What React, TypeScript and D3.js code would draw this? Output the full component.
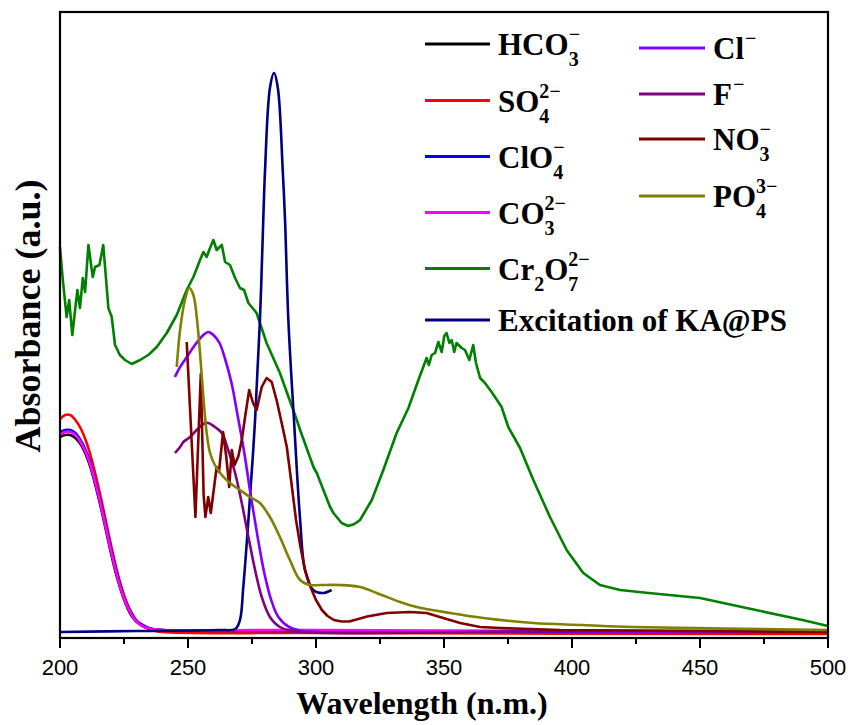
import React from "react";
import * as d3 from "d3";

type Pt = [number, number];

// wavelength (nm), absorbance (a.u.)
const hco3: Pt[] = [[200, 2.01], [202, 2.03], [204, 2.03], [206, 2.0], [208, 1.94], [210, 1.84], [212, 1.7], [214, 1.51], [216, 1.3], [218, 1.07], [220, 0.84], [222, 0.63], [224, 0.46], [226, 0.32], [228, 0.22], [230, 0.16], [233, 0.11], [236, 0.09], [240, 0.08], [260, 0.07], [300, 0.07], [400, 0.06], [500, 0.05]];
const so4: Pt[] = [[200, 2.19], [202, 2.23], [204, 2.23], [206, 2.18], [208, 2.1], [210, 1.98], [212, 1.82], [214, 1.62], [216, 1.4], [218, 1.16], [220, 0.92], [222, 0.7], [224, 0.51], [226, 0.36], [228, 0.25], [230, 0.17], [233, 0.11], [236, 0.08], [240, 0.06], [300, 0.05], [500, 0.04]];
const clo4: Pt[] = [[200, 2.06], [202, 2.08], [204, 2.08], [206, 2.05], [208, 1.98], [210, 1.88], [212, 1.74], [214, 1.55], [216, 1.34], [218, 1.11], [220, 0.88], [222, 0.67], [224, 0.49], [226, 0.34], [228, 0.24], [230, 0.17], [233, 0.12], [236, 0.09], [240, 0.08], [300, 0.07], [500, 0.06]];
const co3: Pt[] = [[200, 2.03], [202, 2.06], [204, 2.06], [206, 2.03], [208, 1.96], [210, 1.86], [212, 1.72], [214, 1.53], [216, 1.32], [218, 1.09], [220, 0.86], [222, 0.65], [224, 0.47], [226, 0.33], [228, 0.23], [230, 0.16], [233, 0.11], [236, 0.09], [240, 0.08], [300, 0.08], [500, 0.06]];
const cr2o7: Pt[] = [[200, 3.91], [201.1, 3.58], [202.6, 3.21], [203.6, 3.38], [204.8, 3.03], [205.9, 3.28], [206.8, 3.48], [207.8, 3.3], [208.9, 3.6], [209.8, 3.46], [211.1, 3.93], [212.8, 3.61], [213.7, 3.71], [215.4, 3.73], [216.9, 3.93], [218.9, 3.3], [220.2, 3.21], [221.5, 2.93], [223.4, 2.83], [225.4, 2.78], [226.7, 2.76], [228.0, 2.74], [231.3, 2.78], [234.5, 2.83], [237.8, 2.91], [241.7, 3.05], [245.6, 3.23], [249.5, 3.48], [252.1, 3.61], [254.7, 3.78], [256.0, 3.86], [257.3, 3.81], [258.3, 3.88], [259.9, 3.98], [261.2, 3.88], [263.2, 3.93], [264.5, 3.76], [266.4, 3.73], [268.4, 3.6], [270.3, 3.5], [271.9, 3.48], [273.6, 3.35], [276.8, 3.25], [280.7, 2.95], [285.9, 2.65], [292.5, 2.18], [293.8, 2.08], [299.0, 1.71], [300.3, 1.65], [305.5, 1.31], [306.8, 1.25], [310, 1.15], [312.6, 1.12], [315, 1.14], [317.2, 1.18], [321.8, 1.38], [326.3, 1.68], [331.5, 2.05], [336.1, 2.3], [340.0, 2.58], [343.2, 2.8], [344.1, 2.73], [345.2, 2.83], [346.5, 2.85], [347.8, 2.96], [349.1, 2.86], [350.1, 3.02], [351.0, 3.05], [352.1, 2.95], [353.0, 2.98], [354.0, 2.86], [354.9, 2.95], [356.9, 2.9], [358.2, 2.88], [359.9, 2.78], [361.4, 2.93], [362.5, 2.75], [364.1, 2.6], [366.0, 2.55], [368.6, 2.46], [372.5, 2.31], [375.1, 2.11], [379.7, 1.9], [384.9, 1.58], [391.4, 1.21], [397.9, 0.88], [404.4, 0.65], [410.9, 0.53], [418.8, 0.48], [430, 0.45], [450, 0.4], [470, 0.29], [490, 0.18], [500, 0.12]];
const excitation: Pt[] = [[200, 0.06], [230, 0.07], [262, 0.08], [268.5, 0.09], [270.3, 0.18], [271.6, 0.51], [273.6, 1.18], [276.2, 2.18], [278.1, 3.18], [279.4, 4.18], [280.1, 4.68], [282.0, 5.5], [283.6, 5.65], [285.1, 5.5], [287.0, 4.68], [287.9, 4.18], [289.2, 3.18], [291.4, 2.18], [293.8, 1.18], [295.7, 0.68], [298.9, 0.48], [302.8, 0.45], [306.1, 0.48]];
const chloride: Pt[] = [[244.9, 2.61], [246.9, 2.71], [248.2, 2.76], [250.1, 2.83], [252.7, 2.93], [256.0, 3.03], [257.9, 3.06], [259.9, 3.03], [262.3, 2.95], [264.6, 2.78], [267.0, 2.55], [269.5, 2.21], [272.0, 1.85], [274.6, 1.41], [277.2, 1.01], [279.8, 0.65], [282.5, 0.38], [285.3, 0.21], [289.5, 0.11], [295.0, 0.07], [400, 0.07], [500, 0.06]];
const fluoride: Pt[] = [[244.9, 1.85], [246.9, 1.91], [248.2, 1.96], [250.8, 2.01], [253.4, 2.08], [256.0, 2.14], [257.9, 2.15], [260.5, 2.11], [263.2, 2.05], [265.7, 1.88], [268.4, 1.65], [271.0, 1.35], [273.6, 1.01], [276.2, 0.68], [278.8, 0.41], [282.0, 0.21], [285.9, 0.11], [291.1, 0.07], [400, 0.07], [500, 0.07]];
const nitrate: Pt[] = [[249.5, 2.96], [251.4, 1.98], [252.9, 1.21], [255.0, 2.64], [256.1, 1.43], [256.8, 1.21], [257.9, 1.41], [258.9, 1.25], [259.9, 1.45], [261.2, 1.71], [262.1, 1.66], [263.7, 2.06], [265.0, 1.8], [266.1, 1.51], [267.1, 1.88], [268.2, 1.73], [269.7, 1.82], [271.0, 1.98], [272.3, 2.21], [273.9, 2.48], [275.4, 2.35], [276.8, 2.28], [278.8, 2.51], [280.7, 2.6], [282.7, 2.56], [284.6, 2.38], [286.6, 2.15], [288.6, 1.91], [290.4, 1.55], [292.2, 1.18], [293.8, 0.93], [295.7, 0.68], [298.0, 0.5], [300.0, 0.38], [302.3, 0.28], [304.5, 0.22], [307.0, 0.18], [310.0, 0.165], [313.0, 0.165], [316.5, 0.19], [320.0, 0.215], [327.6, 0.25], [336.7, 0.26], [343.2, 0.25], [349.7, 0.2], [356.3, 0.15], [364.1, 0.11], [371.9, 0.1], [395.3, 0.08], [450, 0.07], [500, 0.06]];
const phosphate: Pt[] = [[245.6, 2.71], [246.9, 3.08], [248.8, 3.38], [250.5, 3.5], [252.1, 3.43], [253.4, 3.21], [254.7, 2.85], [256.0, 2.41], [257.3, 2.05], [258.6, 1.85], [260.5, 1.73], [263.2, 1.63], [266.4, 1.55], [270.3, 1.48], [274.2, 1.41], [278.1, 1.35], [282.0, 1.21], [285.9, 1.01], [289.8, 0.78], [293.8, 0.58], [297.7, 0.53], [301.6, 0.53], [309.4, 0.53], [317.2, 0.51], [323.7, 0.45], [332.8, 0.36], [339.3, 0.31], [352.3, 0.25], [365.4, 0.2], [384.9, 0.15], [404.3, 0.13], [423.8, 0.11], [500, 0.08]];

const xTicks = [200, 250, 300, 350, 400, 450, 500];
const xMinorTicks = [225, 275, 325, 375, 425, 475];

type Seg = { text: string; sub?: string; sup?: string };
type Series = { key: string; data: Pt[]; color: string; label: Seg[]; noisy?: boolean };

const seriesList: Series[] = [
  { key: "hco3", data: hco3, color: "#000000", label: [{ text: "HCO", sub: "3", sup: "\u2212" }] },
  { key: "so4", data: so4, color: "#FF0000", label: [{ text: "SO", sub: "4", sup: "2\u2212" }] },
  { key: "clo4", data: clo4, color: "#0000FF", label: [{ text: "ClO", sub: "4", sup: "\u2212" }] },
  { key: "co3", data: co3, color: "#FF00FF", label: [{ text: "CO", sub: "3", sup: "2\u2212" }] },
  { key: "cr2o7", data: cr2o7, color: "#008000", noisy: true, label: [{ text: "Cr", sub: "2" }, { text: "O", sub: "7", sup: "2\u2212" }] },
  { key: "exc", data: excitation, color: "#000080", label: [{ text: "Excitation of KA@PS" }] },
  { key: "cl", data: chloride, color: "#8000FF", label: [{ text: "Cl", sup: "\u2212" }] },
  { key: "f", data: fluoride, color: "#800080", label: [{ text: "F", sup: "\u2212" }] },
  { key: "no3", data: nitrate, color: "#800000", noisy: true, label: [{ text: "NO", sub: "3", sup: "\u2212" }] },
  { key: "po4", data: phosphate, color: "#808000", label: [{ text: "PO", sub: "4", sup: "3\u2212" }] },
];

const W = 852;
const H = 725;
const L = 60, R = 828, T = 12, B = 638;
const SERIF = "'Liberation Serif', 'Times New Roman', Times, serif";
const SANS = "'Liberation Sans', Arial, Helvetica, sans-serif";

function LegendLabel({ x, y, segs }: { x: number; y: number; segs: Seg[] }) {
  const parts: React.ReactNode[] = [];
  let offset = 0;
  segs.forEach((s, i) => {
    parts.push(
      <tspan key={`t${i}`} fontSize={31} dy={-offset}>{s.text}</tspan>
    );
    offset = 0;
    if (s.sub) {
      parts.push(<tspan key={`b${i}`} fontSize={20} dy={11}>{s.sub}</tspan>);
      offset = 11;
    }
    if (s.sup) {
      const dx = s.sub ? -10 * s.sub.length : 1;
      parts.push(<tspan key={`p${i}`} fontSize={20} dx={dx} dy={-14 - offset}>{s.sup}</tspan>);
      offset = -14;
    }
  });
  return (
    <text x={x} y={y} fontFamily={SERIF} fontWeight="bold" fill="#000">
      {parts}
    </text>
  );
}

export default function App() {
  const x = d3.scaleLinear().domain([200, 500]).range([L, R]);
  const y = d3.scaleLinear().domain([0, 6.26]).range([B, T]);
  const smooth = d3.line<Pt>().x((d) => x(d[0])).y((d) => y(d[1])).curve(d3.curveCatmullRom.alpha(0.5));
  const linear = d3.line<Pt>().x((d) => x(d[0])).y((d) => y(d[1]));

  const col1Y = [44, 100.5, 156.5, 212.5, 268.5, 320];
  const col2Y = [48, 94, 139, 196];
  const legendPos = seriesList.map((s, i) =>
    i < 6
      ? { x1: 425, x2: 490, tx: 498, y: col1Y[i] }
      : { x1: 639, x2: 705, tx: 713, y: col2Y[i - 6] }
  );

  return (
    <svg width={W} height={H} style={{ position: "absolute", left: 0, top: 0, background: "#fff" }}>
      <rect x={0} y={0} width={W} height={H} fill="#fff" />
      {seriesList.map((s) => (
        <path key={s.key} d={(s.noisy ? linear : smooth)(s.data) || ""} fill="none" stroke={s.color} strokeWidth={2.6} strokeLinejoin="round" />
      ))}
      <rect x={L} y={T} width={R - L} height={B - T} fill="none" stroke="#000" strokeWidth={2.2} />
      {xTicks.map((t) => (
        <g key={t}>
          <line x1={x(t)} x2={x(t)} y1={B} y2={B + 10} stroke="#000" strokeWidth={2} />
          <text x={x(t)} y={675} textAnchor="middle" fontFamily={SANS} fontSize={22} fill="#000">{t}</text>
        </g>
      ))}
      {xMinorTicks.map((t) => (
        <line key={t} x1={x(t)} x2={x(t)} y1={B} y2={B + 6} stroke="#000" strokeWidth={2} />
      ))}
      <text x={422} y={714} textAnchor="middle" fontFamily={SERIF} fontWeight="bold" fontSize={32} fill="#000">Wavelength (n.m.)</text>
      <text transform={`translate(40, 316) rotate(-90)`} textAnchor="middle" fontFamily={SERIF} fontWeight="bold" fontSize={36} fill="#000">Absorbance (a.u.)</text>
      {seriesList.map((s, i) => {
        const p = legendPos[i];
        return (
          <g key={`lg-${s.key}`}>
            <line x1={p.x1} x2={p.x2} y1={p.y} y2={p.y} stroke={s.color} strokeWidth={3} />
            <LegendLabel x={p.tx} y={p.y + 11} segs={s.label} />
          </g>
        );
      })}
    </svg>
  );
}
